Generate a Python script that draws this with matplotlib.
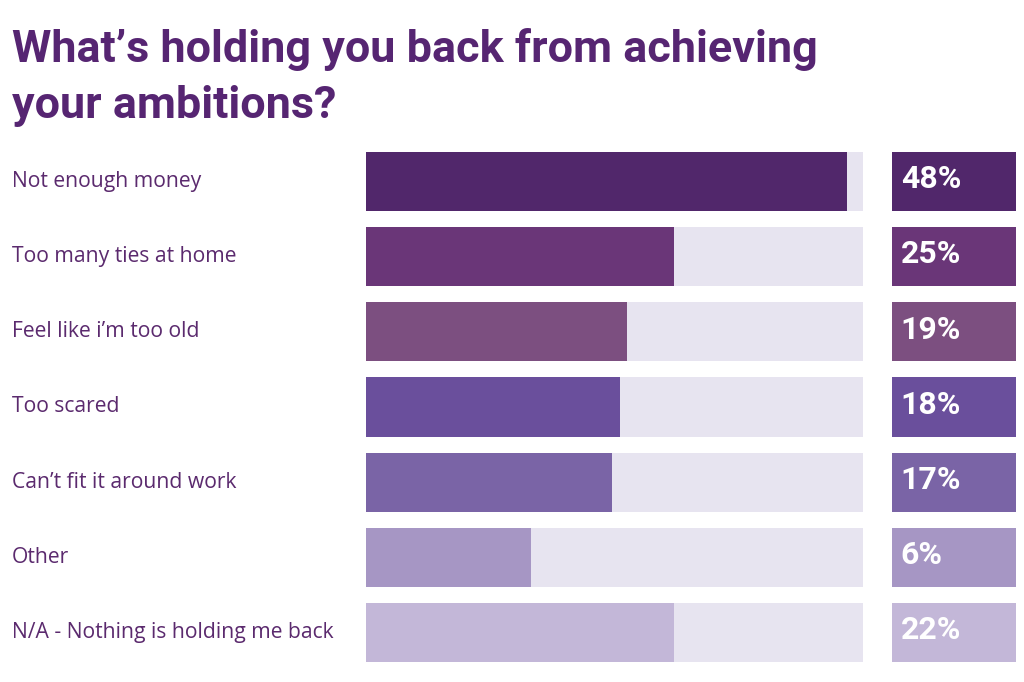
import matplotlib
matplotlib.use("Agg")
import matplotlib.pyplot as plt

# ---- data ----
categories = [
    "Not enough money",
    "Too many ties at home",
    "Feel like i\u2019m too old",
    "Too scared",
    "Can\u2019t fit it around work",
    "Other",
    "N/A - Nothing is holding me back",
]
percent_labels = ["48%", "25%", "19%", "18%", "17%", "6%", "22%"]
# bar lengths as drawn in the picture, on a 0-100 track scale
bar_lengths = [96.8, 62.0, 52.5, 51.1, 49.5, 33.2, 62.0]
track_max = 100

bar_colors = ["#51276b", "#6a3678", "#7c4f80", "#6a4f9c", "#7a64a6", "#a696c4", "#c3b7d8"]
track_color = "#e7e4f0"
text_color = "#5b2a6e"
title_color = "#562572"

W, H = 1024, 682
fig = plt.figure(figsize=(W / 100, H / 100), dpi=100)
fig.patch.set_facecolor("white")

n = len(categories)
bh = 0.785
ylo, yhi = n - 1 + bh / 2, -bh / 2
top_px, bot_px = 152, 662

def fx(px):
    return px / W

def fy(py):
    return 1 - py / H

ax = fig.add_axes([fx(366), fy(bot_px), fx(863) - fx(366), (bot_px - top_px) / H])
ypos = list(range(n))
ax.barh(ypos, [track_max] * n, height=bh, color=track_color, linewidth=0)
ax.barh(ypos, bar_lengths, height=bh, color=bar_colors, linewidth=0)
ax.set_xlim(0, track_max)
ax.set_ylim(ylo, yhi)
ax.axis("off")

ax2 = fig.add_axes([fx(892), fy(bot_px), fx(1016) - fx(892), (bot_px - top_px) / H])
ax2.barh(ypos, [1] * n, height=bh, color=bar_colors, linewidth=0)
ax2.set_xlim(0, 1)
ax2.set_ylim(ylo, yhi)
ax2.axis("off")
for i, lab in enumerate(percent_labels):
    ax2.text(0.07, i - 0.03, lab, color="white", fontsize=23, fontweight="bold",
             family="Roboto", va="center", ha="left")

# category labels
for i, cat in enumerate(categories):
    ax.text(-(366 - 12) / 497 * track_max, i, cat, color=text_color, fontsize=15.2,
            family="Open Sans", va="center", ha="left", clip_on=False)

# title
fig.text(fx(12), fy(62), "What\u2019s holding you back from achieving", color=title_color,
         fontsize=32.4, fontweight="bold", family="Roboto", va="baseline", ha="left")
fig.text(fx(12), fy(118), "your ambitions?", color=title_color,
         fontsize=32.4, fontweight="bold", family="Roboto", va="baseline", ha="left")

fig.savefig("out.png", dpi=100, facecolor="white")
